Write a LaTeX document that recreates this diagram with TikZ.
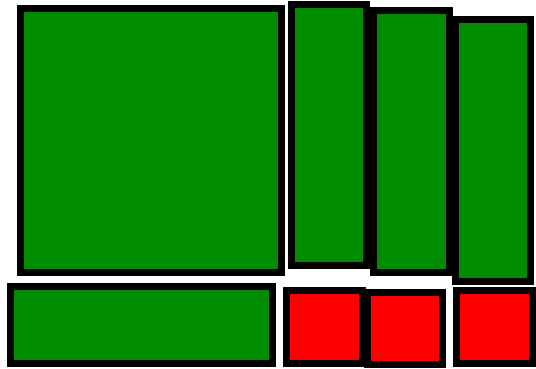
\documentclass[tikz,border=0pt]{standalone}
\begin{document}
\begin{tikzpicture}[x=1pt,y=-1pt,
  boxg/.style={draw=black,fill={rgb,255:red,0;green,140;blue,0},line width=7pt},
  boxr/.style={draw=black,fill={rgb,255:red,255;green,0;blue,0},line width=7pt}]
\useasboundingbox (0,0) rectangle (536,368);
\draw[boxg] (20.5,8.5) rectangle (281.5,272.5);
\draw[boxg] (291.5,4.5) rectangle (366.5,265.5);
\draw[boxg] (373.5,10.5) rectangle (449.5,272.5);
\draw[boxg] (455.5,19.5) rectangle (530.5,281.5);
\draw[boxg] (10.5,286.5) rectangle (272.5,363.5);
\draw[boxr] (286.5,290.5) rectangle (362.5,363.5);
\draw[boxr] (367.5,292.5) rectangle (442.5,364.5);
\draw[boxr] (456.5,290.5) rectangle (532.5,363.5);
\end{tikzpicture}
\end{document}
